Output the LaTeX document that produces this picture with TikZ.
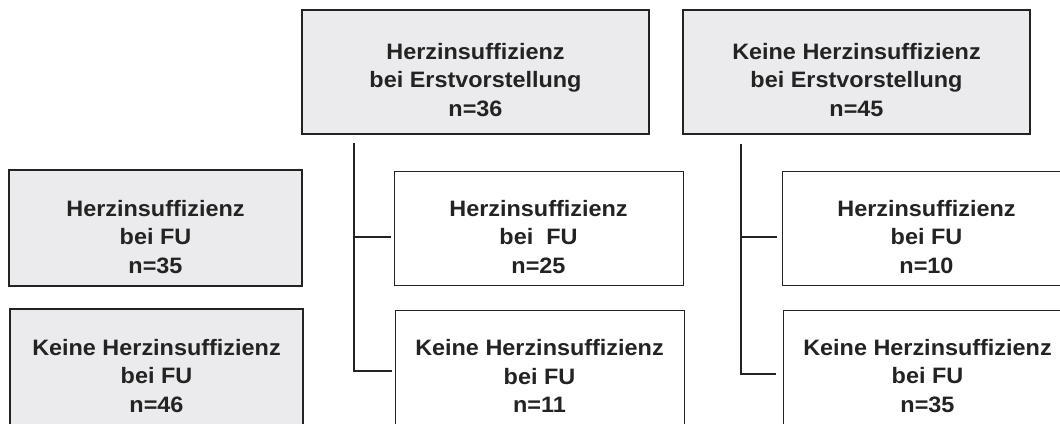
\documentclass[tikz,border=0pt]{standalone}
\usepackage{fontspec}
\setmainfont{Liberation Sans}[FakeStretch=1.05]
\usepackage{tikz}
\definecolor{boxgrey}{RGB}{235,235,237}
\definecolor{edgedark}{RGB}{35,35,35}

\tikzset{
    greybox/.style={draw=edgedark, line width=2pt, fill=boxgrey, rectangle},
    whitebox/.style={draw=edgedark, line width=0.9pt, fill=white, rectangle},
    boxtext/.style={align=center, inner sep=0pt, text=edgedark,
        font=\fontsize{22.3}{28.5}\selectfont\bfseries},
    conn/.style={draw=edgedark, line width=2pt}
}

\begin{document}
\begin{tikzpicture}[x=1pt, y=-1pt]
    \clip (0,0) rectangle (1060,423);

    % Erstvorstellung
    \node[greybox, minimum width=347pt, minimum height=124pt] (hi) at (475.5, 72) {};
    \node[boxtext] (hiT) at ([yshift=-8pt]hi.center)
        {Herzinsuffizienz\\bei Erstvorstellung\\n=36};
    \node[greybox, minimum width=347pt, minimum height=124pt] (khi) at (856.5, 72) {};
    \node[boxtext] (khiT) at ([yshift=-8pt]khi.center)
        {Keine Herzinsuffizienz\\bei Erstvorstellung\\n=45};

    % FU gesamt
    \node[greybox, minimum width=293pt, minimum height=116pt] (fu) at (155.5, 228) {};
    \node[boxtext] (fuT) at ([yshift=-9pt]fu.center)
        {Herzinsuffizienz\\bei FU\\n=35};
    \node[greybox, minimum width=293pt, minimum height=116pt] (kfu) at (156.5, 367) {};
    \node[boxtext] (kfuT) at ([yshift=-9pt]kfu.center)
        {Keine Herzinsuffizienz\\bei FU\\n=46};

    % FU nach Herzinsuffizienz
    \node[whitebox, minimum width=289pt, minimum height=114pt] (hifu) at (538.5, 228) {};
    \node[boxtext] (hifuT) at ([yshift=-9pt]hifu.center)
        {Herzinsuffizienz\\bei\ \ FU\\n=25};
    \node[whitebox, minimum width=289pt, minimum height=114pt] (hikfu) at (539.5, 367) {};
    \node[boxtext] (hikfuT) at ([yshift=-9pt]hikfu.center)
        {Keine Herzinsuffizienz\\bei FU\\n=11};

    % FU nach keiner Herzinsuffizienz
    \node[whitebox, minimum width=289pt, minimum height=114pt] (khifu) at (926.5, 228) {};
    \node[boxtext] (khifuT) at ([yshift=-9pt]khifu.center)
        {Herzinsuffizienz\\bei FU\\n=10};
    \node[whitebox, minimum width=289pt, minimum height=114pt] (khikfu) at (927.5, 367) {};
    \node[boxtext] (khikfuT) at ([yshift=-9pt]khikfu.center)
        {Keine Herzinsuffizienz\\bei FU\\n=35};

    % Verbindungen
    \coordinate (hiTrunk) at (354, 143);
    \coordinate (khiTrunk) at (741, 144);
    \draw[conn] (hiTrunk) |- ([xshift=-3pt, yshift=-9pt]hifu.west);
    \draw[conn] (hiTrunk) |- ([xshift=-3pt, yshift=-4pt]hikfu.west);
    \draw[conn] (khiTrunk) |- ([xshift=-5pt, yshift=-9pt]khifu.west);
    \draw[conn] (khiTrunk) |- ([xshift=-7pt, yshift=-7pt]khikfu.west);

\end{tikzpicture}
\end{document}
